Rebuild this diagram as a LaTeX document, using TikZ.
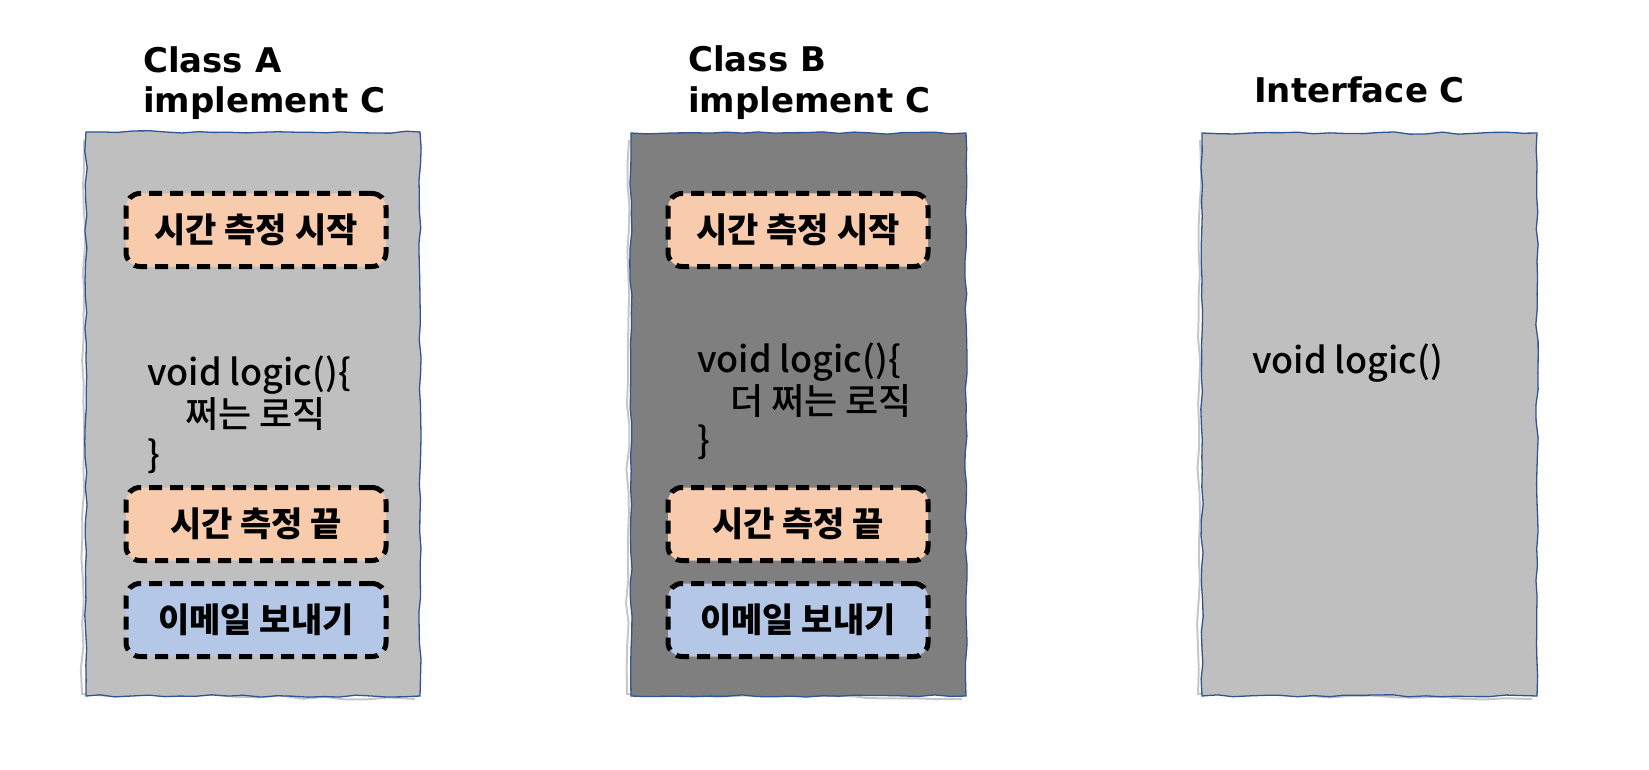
\documentclass[tikz,border=0pt]{standalone}
\usepackage{fontspec}
\setmainfont{Noto Sans CJK KR}
\newfontfamily\titlefont{DejaVu Sans}
\newfontfamily\codefont{Noto Sans CJK KR Medium}
\usetikzlibrary{decorations.pathmorphing}
\definecolor{lightgray}{HTML}{BFBFBF}
\definecolor{darkgray}{HTML}{7F7F7F}
\definecolor{edgeblue}{HTML}{2F5597}
\definecolor{peach}{HTML}{F8CBAD}
\definecolor{paleblue}{HTML}{B4C7E7}
\tikzset{
  x=1pt,y=-1pt,
  panel/.style={draw=edgeblue, line width=1.3pt, decorate,
    decoration={random steps, segment length=16pt, amplitude=1.2pt}},
  shadowline/.style={draw=black!22, line width=2pt, decorate,
    decoration={random steps, segment length=22pt, amplitude=1.5pt}},
  stepbox/.style={draw=black, line width=5pt, dash pattern=on 13pt off 8pt,
    rounded corners=14pt, minimum width=260pt, minimum height=73pt,
    inner sep=0pt, font=\fontsize{34}{40}\selectfont\bfseries},
  title/.style={anchor=base west, align=left, inner sep=0pt,
    font=\titlefont\fontsize{34}{40}\selectfont\bfseries},
  code/.style={anchor=base west, inner sep=0pt, font=\codefont\fontsize{36}{42}\selectfont}
}
\begin{document}
\begin{tikzpicture}
\pgfmathsetseed{7}
\useasboundingbox (0,0) rectangle (1649,770);
% panels
\path[shadowline] (84,140) -- (82,694) -- (415,699);
\path[panel, fill=lightgray] (86,132) -- (420,132) -- (420,696) -- (86,696) -- cycle;

\path[shadowline] (629,140) -- (627,694) -- (962,699);
\path[panel, fill=darkgray] (631,133) -- (966,133) -- (966,696) -- (631,696) -- cycle;

\path[shadowline] (1200,140) -- (1198,694) -- (1532,699);
\path[panel, fill=lightgray] (1202,133) -- (1537,133) -- (1537,696) -- (1202,696) -- cycle;

% titles
\node[title] (ta1) at (143,73) {Class A};
\node[title] (ta2) at (143,113) {implement C};
\node[title] (tb1) at (688,72) {Class B};
\node[title] (tb2) at (688,113) {implement C};
\node[title] (tc) at (1254,103) {Interface C};

% class A
\node[stepbox, fill=peach] (as) at (256,230) {시간 측정 시작};
\node[code] (ac1) at (147,385) {void logic()\{};
\node[code] (ac2) at (185,427) {쩌는 로직};
\node[code] (ac3) at (147,467) {\}};
\node[stepbox, fill=peach] (ae) at (256,524) {시간 측정 끝};
\node[stepbox, fill=paleblue] (am) at (256,620) {이메일 보내기};

% class B
\node[stepbox, fill=peach] (bs) at (798,230) {시간 측정 시작};
\node[code] (bc1) at (697,372) {void logic()\{};
\node[code] (bc2) at (730,414) {더 쩌는 로직};
\node[code] (bc3) at (697,453) {\}};
\node[stepbox, fill=peach] (be) at (798,524) {시간 측정 끝};
\node[stepbox, fill=paleblue] (bm) at (798,620) {이메일 보내기};

% interface C
\node[code] (cc1) at (1252,373) {void logic()};
\end{tikzpicture}
\end{document}
